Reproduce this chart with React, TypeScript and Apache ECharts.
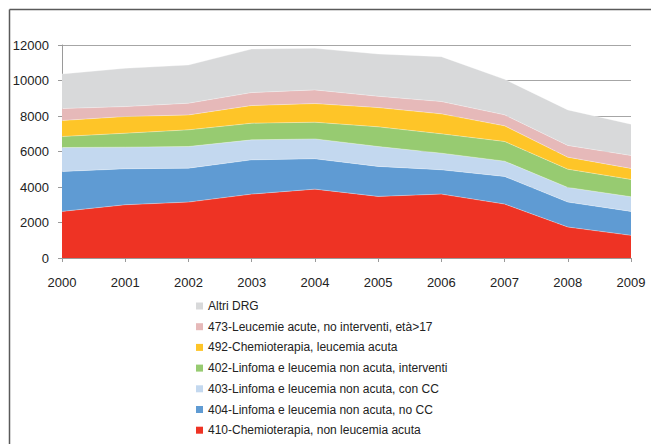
import React, { useEffect, useRef } from "react";
import * as echarts from "echarts";

// Years on the horizontal axis
const years = ["2000", "2001", "2002", "2003", "2004", "2005", "2006", "2007", "2008", "2009"];

// Cases per DRG group, stacked from the bottom
const chemioNonLeucemia = [2625, 3000, 3150, 3600, 3880, 3470, 3600, 3040, 1745, 1275];
const linfomaNoCC = [2250, 2025, 1910, 1930, 1710, 1690, 1370, 1555, 1405, 1350];
const linfomaConCC = [1350, 1220, 1220, 1125, 1120, 1120, 935, 860, 825, 825];
const linfomaInterventi = [620, 785, 940, 940, 940, 1110, 1090, 1110, 1030, 975];
const chemioLeucemia = [900, 940, 840, 995, 1050, 1085, 1125, 880, 675, 620];
const leucemieAcute = [675, 560, 660, 730, 770, 635, 695, 620, 660, 730];
const altriDrg = [1950, 2160, 2155, 2455, 2345, 2385, 2530, 2005, 2005, 1765];

const seriesDefs = [
  { name: "410-Chemioterapia, non leucemia acuta", data: chemioNonLeucemia, color: "#ee3324" },
  { name: "404-Linfoma e leucemia non acuta, no CC", data: linfomaNoCC, color: "#5f9bd3" },
  { name: "403-Linfoma e leucemia non acuta, con CC", data: linfomaConCC, color: "#c3d8ef" },
  { name: "402-Linfoma e leucemia non acuta, interventi", data: linfomaInterventi, color: "#97cb71" },
  { name: "492-Chemioterapia, leucemia acuta", data: chemioLeucemia, color: "#fec528" },
  { name: "473-Leucemie acute, no interventi, età>17", data: leucemieAcute, color: "#e6b9b9" },
  { name: "Altri DRG", data: altriDrg, color: "#d8d9da" },
];

const FONT = "'Liberation Sans', Arial, sans-serif";

export default function App() {
  const ref = useRef<HTMLDivElement>(null);

  useEffect(() => {
    if (!ref.current) return;
    const chart = echarts.init(ref.current, null, { renderer: "svg" });
    chart.setOption({
      animation: false,
      backgroundColor: "#ffffff",
      textStyle: { fontFamily: FONT },
      grid: { left: 62, right: 20, top: 45, bottom: 186 },
      graphic: [
        {
          type: "line",
          shape: { x1: 9.5, y1: 9.5, x2: 651, y2: 9.5 },
          style: { stroke: "#5a5a5a", lineWidth: 1.5 },
        },
        {
          type: "line",
          shape: { x1: 9.5, y1: 9.5, x2: 9.5, y2: 444 },
          style: { stroke: "#5a5a5a", lineWidth: 1.5 },
        },
      ],
      legend: {
        orient: "vertical",
        left: 196,
        top: 299,
        padding: 0,
        itemGap: 6.7,
        itemWidth: 7,
        itemHeight: 7,
        icon: "rect",
        selectedMode: false,
        textStyle: { fontSize: 12, lineHeight: 14, color: "#222", fontFamily: FONT },
        data: seriesDefs.map((s) => s.name).reverse(),
      },
      xAxis: {
        type: "category",
        data: years,
        boundaryGap: false,
        axisLine: { lineStyle: { color: "#9a9a9a", width: 1 } },
        axisTick: { show: true, length: 4, alignWithLabel: true, lineStyle: { color: "#9a9a9a" } },
        axisLabel: { margin: 18, fontSize: 13, color: "#222", fontFamily: FONT },
        splitLine: { show: false },
      },
      yAxis: {
        type: "value",
        min: 0,
        max: 12000,
        interval: 2000,
        axisLine: { show: true, lineStyle: { color: "#9a9a9a", width: 1 } },
        axisTick: { show: true, length: 4, lineStyle: { color: "#9a9a9a" } },
        axisLabel: {
          margin: 13,
          fontSize: 13,
          color: "#222",
          fontFamily: FONT,
          formatter: (v: number) => String(v),
        },
        splitLine: { show: true, lineStyle: { color: "#a6a6a6", width: 1 } },
      },
      series: seriesDefs.map((s) => ({
        name: s.name,
        type: "line",
        stack: "total",
        data: s.data,
        symbol: "none",
        itemStyle: { color: s.color },
        lineStyle: { width: 0.6, color: "rgba(255,255,255,0.55)" },
        areaStyle: { color: s.color, opacity: 1 },
        z: 2,
      })),
    });
    return () => chart.dispose();
  }, []);

  return (
    <div
      ref={ref}
      style={{ position: "absolute", left: 0, top: 0, width: 651, height: 444 }}
    />
  );
}
